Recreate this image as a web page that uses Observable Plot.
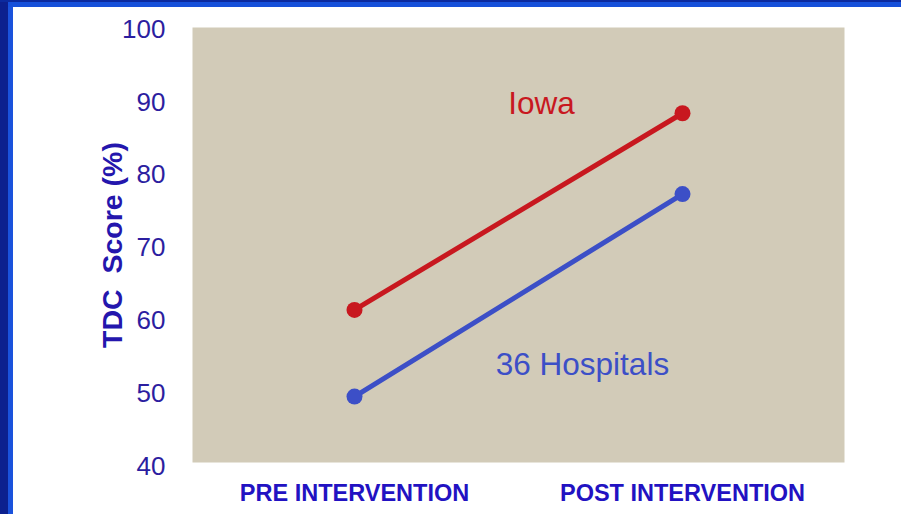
<!DOCTYPE html>
<html>
<head>
<meta charset="utf-8">
<script src="https://cdn.jsdelivr.net/npm/d3@7"></script>
<script src="https://cdn.jsdelivr.net/npm/@observablehq/plot@0.6"></script>
<style>
  html, body { margin: 0; padding: 0; background: #ffffff; }
  #wrap { position: relative; width: 901px; height: 514px; overflow: hidden; background: #fff; font-family: "Liberation Sans", Arial, sans-serif; }
  #chart { position: absolute; left: 0; top: 0; }
  .bl1 { position: absolute; left: 0; top: 0; width: 8px; height: 514px; background: #0c208e; }
  .bl2 { position: absolute; left: 8px; top: 0; width: 5px; height: 514px; background: #1a52dc; }
  .bt1 { position: absolute; left: 0; top: 0; width: 901px; height: 2px; background: #0c2a9e; }
  .bt2 { position: absolute; left: 8px; top: 2px; width: 893px; height: 5px; background: #1650da; }
</style>
</head>
<body>
<div id="wrap">
  <div id="chart"></div>
  <div class="bl1"></div><div class="bl2"></div><div class="bt1"></div><div class="bt2"></div>
</div>
<script>
// Data
const phases = ["PRE INTERVENTION", "POST INTERVENTION"];
const phaseIndex = [0, 1];
const iowa = [61.5, 88.5];
const hospitals36 = [49.6, 77.4];
const seriesNames = ["Iowa", "36 Hospitals"];
const seriesColors = ["#c8181f", "#3c4fc7"];
const yTicks = [40, 50, 60, 70, 80, 90, 100];
// label anchor positions in data units
const labelX = [0.57, 0.695];
const labelY = [88.4, 52.5];

const rows = [];
phaseIndex.forEach((p, i) => {
  rows.push({phase: p, value: iowa[i], series: seriesNames[0]});
  rows.push({phase: p, value: hospitals36[i], series: seriesNames[1]});
});
const labels = seriesNames.map((s, i) => ({series: s, x: labelX[i], y: labelY[i]}));

const chart = Plot.plot({
  width: 901,
  height: 514,
  marginLeft: 192,
  marginRight: 57,
  marginTop: 27,
  marginBottom: 52,
  style: {background: "transparent", fontFamily: "'Liberation Sans', Arial, sans-serif"},
  x: {domain: [0, 1], range: [354, 682], axis: null},
  y: {domain: [40, 100], range: [466, 29], axis: null},
  color: {domain: seriesNames, range: seriesColors},
  marks: [
    Plot.frame({fill: "#d2cbb8", stroke: null}),
    Plot.axisY({ticks: yTicks, tickSize: 0, tickPadding: 27, fontSize: 26, fill: "#2c1ea0", label: null}),
    Plot.axisX({ticks: phaseIndex, tickFormat: (d) => phases[d], tickSize: 0, tickPadding: 22, fontSize: 23.5, fontWeight: "bold", fill: "#2212c2", label: null}),
    Plot.text(["TDC\u00A0\u00A0Score (%)"], {frameAnchor: "left", dx: -80, rotate: -90, fontSize: 28.5, fontWeight: "bold", fill: "#2416ad", textAnchor: "middle", lineAnchor: "middle"}),
    Plot.line(rows, {x: "phase", y: "value", z: "series", stroke: "series", strokeWidth: 5}),
    Plot.dot(rows, {x: "phase", y: "value", fill: "series", r: 8}),
    Plot.text(labels, {x: "x", y: "y", text: "series", fill: "series", fontSize: 31.5, lineAnchor: "bottom", textAnchor: "middle"})
  ]
});
document.getElementById("chart").appendChild(chart);
</script>
</body>
</html>
